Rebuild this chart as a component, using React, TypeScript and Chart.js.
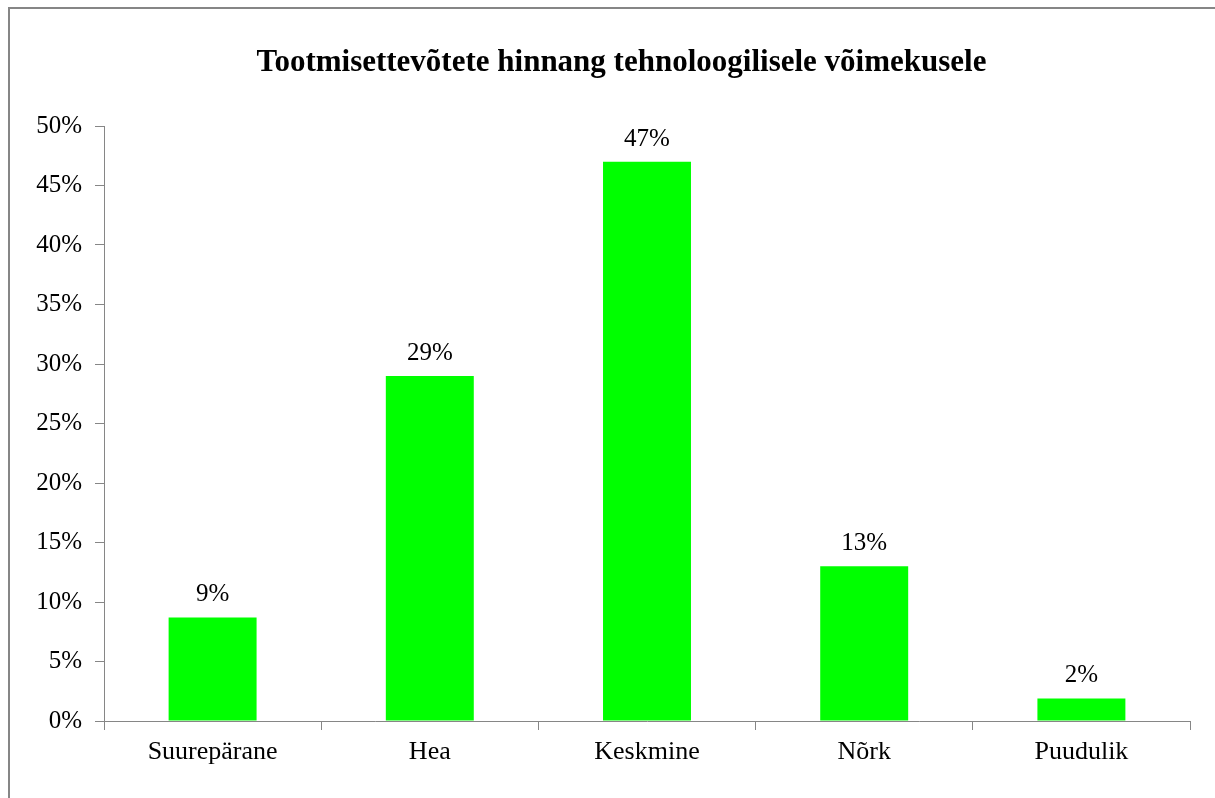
import React, { useEffect, useRef } from "react";
import { Chart, registerables } from "chart.js";

Chart.register(...registerables);

const TITLE = "Tootmisettevõtete hinnang tehnoloogilisele võimekusele";
const categories = ["Suurepärane", "Hea", "Keskmine", "Nõrk", "Puudulik"];
const values = [8.7, 29, 47, 13, 1.9];
const valueLabels = ["9%", "29%", "47%", "13%", "2%"];
const yMin = 0;
const yMax = 50;
const yStep = 5;

const FONT = "'Liberation Serif', 'Times New Roman', serif";
const AXIS_COLOR = "#868686";

const frame = {
  id: "frame",
  beforeDraw(chart: any) {
    const ctx = chart.ctx;
    ctx.save();
    ctx.fillStyle = "#ffffff";
    ctx.fillRect(0, 0, chart.width, chart.height);
    ctx.strokeStyle = AXIS_COLOR;
    ctx.lineWidth = 2;
    ctx.strokeRect(9, 8, chart.width + 50, chart.height + 50);
    // title, centred on the bordered box
    ctx.font = `bold 31px ${FONT}`;
    ctx.fillStyle = "#000";
    ctx.textAlign = "center";
    ctx.textBaseline = "alphabetic";
    ctx.fillText(TITLE, 621.5, 71);
    ctx.restore();
  },
};

const valueLabelPlugin = {
  id: "valueLabels",
  afterDatasetsDraw(chart: any) {
    const ctx = chart.ctx;
    const meta = chart.getDatasetMeta(0);
    ctx.save();
    ctx.font = `25px ${FONT}`;
    ctx.fillStyle = "#000";
    ctx.textAlign = "center";
    ctx.textBaseline = "alphabetic";
    meta.data.forEach((el: any, i: number) => {
      ctx.fillText(valueLabels[i], el.x, el.y - 16);
    });
    ctx.restore();
  },
};

export default function App() {
  const ref = useRef<HTMLCanvasElement>(null);
  useEffect(() => {
    if (!ref.current) return;
    const chart = new Chart(ref.current, {
      type: "bar",
      data: {
        labels: categories,
        datasets: [
          {
            data: values,
            backgroundColor: "#00FF00",
            borderWidth: 0,
            categoryPercentage: 1,
            barPercentage: 0.405,
          },
        ],
      },
      options: {
        animation: false,
        responsive: false,
        devicePixelRatio: 1,
        layout: { padding: { left: 0, right: 25, top: 126, bottom: 0 } },
        plugins: {
          legend: { display: false },
          tooltip: { enabled: false },
          title: { display: false },
        },
        scales: {
          x: {
            grid: {
              display: true,
              drawOnChartArea: false,
              drawTicks: true,
              tickLength: 9,
              color: AXIS_COLOR,
              offset: true,
            },
            border: { display: true, color: AXIS_COLOR, width: 1 },
            ticks: {
              color: "#000",
              font: { family: FONT, size: 26 },
              padding: 7,
              maxRotation: 0,
            },
            afterFit(scale: any) {
              scale.height = 77;
            },
          },
          y: {
            min: yMin,
            max: yMax,
            grid: {
              display: true,
              drawOnChartArea: false,
              drawTicks: true,
              tickLength: 9,
              color: AXIS_COLOR,
            },
            border: { display: true, color: AXIS_COLOR, width: 1 },
            ticks: {
              stepSize: yStep,
              color: "#000",
              font: { family: FONT, size: 25 },
              padding: 13,
              callback: (v: any) => `${v}%`,
            },
            afterFit(scale: any) {
              scale.width = 104;
            },
          },
        },
      },
      plugins: [frame, valueLabelPlugin],
    });
    return () => chart.destroy();
  }, []);
  return (
    <div style={{ position: "fixed", left: 0, top: 0, width: 1215, height: 798, background: "#fff" }}>
      <canvas ref={ref} width={1215} height={798} style={{ display: "block", width: 1215, height: 798 }} />
    </div>
  );
}
